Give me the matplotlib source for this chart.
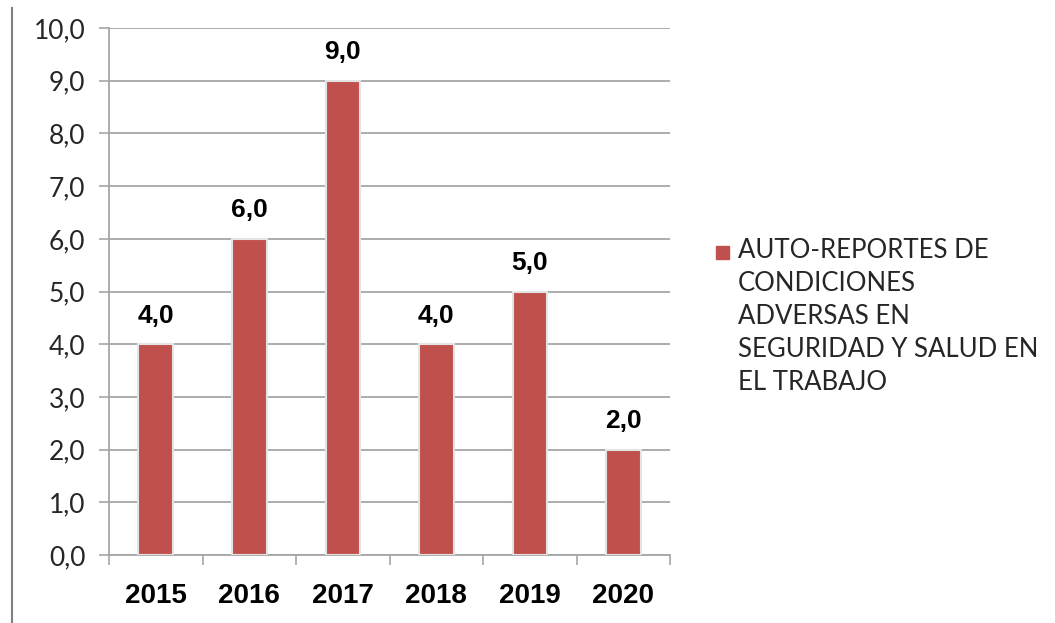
import matplotlib.pyplot as plt
from matplotlib.lines import Line2D
from matplotlib.patches import Rectangle
import numpy as np

years = ["2015", "2016", "2017", "2018", "2019", "2020"]
values = [4.0, 6.0, 9.0, 4.0, 5.0, 2.0]
series_name = "AUTO-REPORTES DE\nCONDICIONES\nADVERSAS EN\nSEGURIDAD Y SALUD EN\nEL TRABAJO"

bar_color = "#C0504D"
grid_color = "#A6A6A6"
text_color = "#262626"

fig = plt.figure(figsize=(10.55, 6.23), dpi=100)
ax = fig.add_axes([0.1033, 0.109, 0.532, 0.846])

x = np.arange(len(years))
ax.bar(x, values, width=0.37, color=bar_color, edgecolor="#E4E4E4",
       linewidth=1.5, label=series_name, zorder=3)

for xi, v in zip(x, values):
    ax.annotate(f"{v:.1f}".replace(".", ","), (xi, v), xytext=(0, 12),
                textcoords="offset points", ha="center", va="bottom",
                fontsize=19, fontweight="bold", family="Liberation Sans")

ax.set_xlim(-0.5, len(years) - 0.5)
ax.set_ylim(0, 10)
ax.set_yticks(np.arange(0, 11, 1))
ax.set_yticklabels([f"{t:.1f}".replace(".", ",") for t in range(11)],
                   fontsize=19, family="Lato", color=text_color)
ax.set_xticks(x)
ax.set_xticklabels(years, fontsize=20, fontweight="bold", family="Liberation Sans")
ax.set_xticks(np.arange(-0.5, len(years), 1), minor=True)
ax.tick_params(axis="x", which="major", length=0, pad=20)
ax.tick_params(axis="x", which="minor", length=7, width=1.2, color=grid_color, direction="out")
ax.tick_params(axis="y", length=7, width=1.2, color=grid_color, pad=10)

ax.grid(axis="y", color=grid_color, linewidth=1.3, zorder=0)
ax.set_axisbelow(True)
for side in ["top", "right"]:
    ax.spines[side].set_visible(False)
for side in ["left", "bottom"]:
    ax.spines[side].set_color(grid_color)
    ax.spines[side].set_linewidth(1.3)

# legend: square marker beside the first line of the wrapped series name
fig.add_artist(Rectangle((716 / 1055, 1 - 259 / 623), 13 / 1055, 13 / 623,
                         transform=fig.transFigure, color=bar_color))
fig.text(738 / 1055, 1 - 238 / 623, series_name, va="top", ha="left",
         fontsize=18.5, family="Lato", color=text_color, linespacing=1.4)

fig.add_artist(Line2D([12 / 1055, 12 / 1055], [0, 1 - 8 / 623], color="#808080", linewidth=1.5))

fig.savefig("out.png", dpi=100)
